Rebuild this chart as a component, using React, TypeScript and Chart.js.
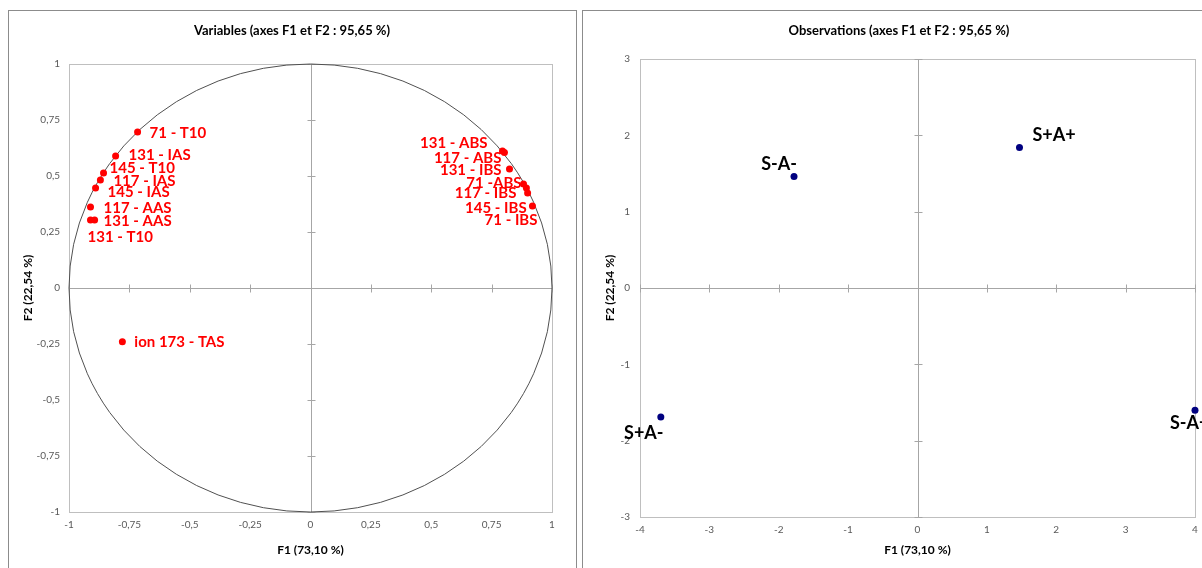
import React, { useEffect, useRef } from "react";
import { Chart, registerables } from "chart.js";
Chart.register(...registerables);

// ---------- Data ----------
const varLabels = [
  "71 - T10", "131 - IAS", "145 - T10", "117 - IAS", "145 - IAS", "117 - AAS", "131 - AAS", "131 - T10",
  "131 - ABS", "117 - ABS", "131 - IBS", "71 -ABS", "117 - IBS", "145 - IBS", "71 - IBS",
  "ion 173 - TAS",
];
const varF1 = [-0.716, -0.807, -0.857, -0.87, -0.89, -0.911, -0.894, -0.911, 0.795, 0.803, 0.824, 0.882, 0.894, 0.899, 0.919, -0.779];
const varF2 = [0.696, 0.589, 0.513, 0.482, 0.446, 0.362, 0.304, 0.304, 0.612, 0.605, 0.531, 0.464, 0.446, 0.424, 0.366, -0.24];

const obsLabels = ["S+A+", "S-A-", "S+A-", "S-A+"];
const obsF1 = [1.47, -1.78, -3.7, 4.0];
const obsF2 = [1.84, 1.46, -1.69, -1.6];

const varTicks = [-1, -0.75, -0.5, -0.25, 0, 0.25, 0.5, 0.75, 1];
const obsXTicks = [-4, -3, -2, -1, 0, 1, 2, 3, 4];
const obsYTicks = [-3, -2, -1, 0, 1, 2, 3];

const varTitle = "Variables (axes F1 et F2 : 95,65 %)";
const obsTitle = "Observations (axes F1 et F2 : 95,65 %)";
const xTitle = "F1 (73,10 %)";
const yTitle = "F2 (22,54 %)";

// ---------- Label placement (layout, pixels) ----------
const varAlign = ["left", "left", "left", "left", "left", "left", "left", "left",
  "right", "right", "right", "right", "right", "right", "right", "left"];
const varDx = [12, 13, 6, 13, 12, 13, 9, -3, -15, -3, -8, -2, -10, -1, 5, 12];
const varDy = [1, -1, -5, 1, 4, 1, 1, 17, -8, 6, 1, -1, 5, 15, 14, 0];
const obsAlign = ["left", "right", "center", "left"];
const obsDx = [13, 3, -17, -25];
const obsDy = [-12, -12, 16, 13];

const FONT = "Lato, 'Open Sans', 'DejaVu Sans', sans-serif";
const fmt = (v: number) => String(v).replace(".", ",");

const framePlugin = {
  id: "frame",
  beforeDatasetsDraw(chart: any, _a: any, opts: any) {
    const { ctx, chartArea: a } = chart;
    const x = chart.scales.x;
    const y = chart.scales.y;
    ctx.save();
    ctx.lineWidth = 1;
    ctx.strokeStyle = opts.frameColor;
    ctx.strokeRect(Math.round(a.left) + 0.5, Math.round(a.top) + 0.5, Math.round(a.width), Math.round(a.height));
    const x0 = Math.round(x.getPixelForValue(0)) + 0.5;
    const y0 = Math.round(y.getPixelForValue(0)) + 0.5;
    ctx.strokeStyle = opts.axisColor;
    const line = (x1: number, y1: number, x2: number, y2: number) => {
      ctx.beginPath();
      ctx.moveTo(x1, y1);
      ctx.lineTo(x2, y2);
      ctx.stroke();
    };
    line(x0, a.top, x0, a.bottom);
    line(a.left, y0, a.right, y0);
    for (const t of x.ticks) {
      const px = Math.round(x.getPixelForValue(t.value)) + 0.5;
      line(px, y0 - 4, px, y0 + 4);
    }
    for (const t of y.ticks) {
      const py = Math.round(y.getPixelForValue(t.value)) + 0.5;
      line(x0 - 4, py, x0 + 4, py);
    }
    if (opts.circle) {
      const cx = x.getPixelForValue(0);
      const cy = y.getPixelForValue(0);
      const rx = Math.abs(x.getPixelForValue(1) - cx);
      const ry = Math.abs(y.getPixelForValue(1) - cy);
      ctx.strokeStyle = opts.circleColor;
      ctx.beginPath();
      ctx.ellipse(cx, cy, rx, ry, 0, 0, Math.PI * 2);
      ctx.stroke();
    }
    ctx.restore();
  },
};

const labelPlugin = {
  id: "pointLabels",
  afterDatasetsDraw(chart: any, _a: any, opts: any) {
    const { ctx } = chart;
    const meta = chart.getDatasetMeta(0);
    ctx.save();
    ctx.font = opts.font;
    ctx.fillStyle = opts.color;
    ctx.textBaseline = "middle";
    opts.labels.forEach((txt: string, i: number) => {
      const el = meta.data[i];
      ctx.textAlign = opts.align[i];
      ctx.fillText(txt, el.x + opts.dx[i], el.y + opts.dy[i]);
    });
    ctx.restore();
  },
};

// Chart title centred on the whole panel (not on the padded layout box)
const panelTitlePlugin = {
  id: "panelTitle",
  afterDraw(chart: any, _a: any, opts: any) {
    const { ctx } = chart;
    ctx.save();
    ctx.font = `bold 13px ${FONT}`;
    ctx.fillStyle = "#000";
    ctx.textAlign = "center";
    ctx.textBaseline = "middle";
    ctx.fillText(opts.text, chart.width / 2, opts.y);
    ctx.restore();
  },
};

function buildConfig(p: any) {
  return {
    type: "scatter",
    data: {
      datasets: [
        {
          data: p.xs.map((v: number, i: number) => ({ x: v, y: p.ys[i] })),
          backgroundColor: p.pointColor,
          borderWidth: 0,
          pointRadius: 3.5,
          clip: false,
        },
      ],
    },
    plugins: [framePlugin, labelPlugin, panelTitlePlugin],
    options: {
      responsive: false,
      animation: false,
      devicePixelRatio: 1,
      layout: { padding: { left: 0, right: p.padRight, top: p.padTop, bottom: 0 } },
      plugins: {
        legend: { display: false },
        tooltip: { enabled: false },
        title: { display: false },
        panelTitle: { text: p.title, y: 20 },
        frame: { frameColor: "#bfbfbf", axisColor: "#a6a6a6", circle: p.circle, circleColor: "#505050" },
        pointLabels: {
          labels: p.labels, align: p.align, dx: p.dx, dy: p.dy,
          font: p.labelFont, color: p.labelColor,
        },
      },
      scales: {
        x: {
          type: "linear",
          min: p.xTicks[0],
          max: p.xTicks[p.xTicks.length - 1],
          afterBuildTicks: (s: any) => { s.ticks = p.xTicks.map((v: number) => ({ value: v })); },
          afterFit: (s: any) => { s.height = p.xAxisH; },
          grid: { display: false, drawTicks: false },
          border: { display: false },
          ticks: {
            padding: 7,
            color: "#595959",
            font: { family: FONT, size: 10 },
            maxRotation: 0,
            autoSkip: false,
            callback: (v: number) => fmt(v),
          },
          title: {
            display: true,
            text: xTitle,
            color: "#000",
            font: { family: FONT, size: 12, weight: "bold" },
            padding: { top: 0, bottom: 15.8 },
          },
        },
        y: {
          type: "linear",
          min: p.yTicks[0],
          max: p.yTicks[p.yTicks.length - 1],
          afterBuildTicks: (s: any) => { s.ticks = p.yTicks.map((v: number) => ({ value: v })); },
          afterFit: (s: any) => { s.width = p.yAxisW; },
          grid: { display: false, drawTicks: false },
          border: { display: false },
          ticks: {
            padding: p.yTickPad,
            color: "#595959",
            font: { family: FONT, size: 10 },
            autoSkip: false,
            callback: (v: number) => fmt(v),
          },
          title: {
            display: true,
            text: yTitle,
            color: "#000",
            font: { family: FONT, size: 12, weight: "bold" },
            padding: { top: p.yTitlePad, bottom: 0 },
          },
        },
      },
    },
  };
}

function ChartCanvas(props: { cfg: any; left: number; top: number; width: number; height: number }) {
  const ref = useRef<HTMLCanvasElement | null>(null);
  useEffect(() => {
    if (!ref.current) return;
    const chart = new Chart(ref.current, buildConfig(props.cfg) as any);
    return () => chart.destroy();
  }, []);
  return (
    <canvas
      ref={ref}
      width={props.width}
      height={props.height}
      style={{ position: "absolute", left: props.left, top: props.top, width: props.width, height: props.height }}
    />
  );
}

export default function App() {
  const varCfg = {
    xs: varF1, ys: varF2, pointColor: "#ff0000",
    labels: varLabels, align: varAlign, dx: varDx, dy: varDy,
    labelFont: `bold 15px ${FONT}`, labelColor: "#ff0000",
    title: varTitle, padTop: 53, padRight: 23,
    xTicks: varTicks, yTicks: varTicks, xAxisH: 61, yAxisW: 60, yTickPad: 9, yTitlePad: 11.8,
    circle: true,
  };
  const obsCfg = {
    xs: obsF1, ys: obsF2, pointColor: "#000080",
    labels: obsLabels, align: obsAlign, dx: obsDx, dy: obsDy,
    labelFont: `bold 18px ${FONT}`, labelColor: "#000",
    title: obsTitle, padTop: 48, padRight: 20,
    xTicks: obsXTicks, yTicks: obsYTicks, xAxisH: 56, yAxisW: 57, yTickPad: 10, yTitlePad: 19.8,
    circle: false,
  };
  return (
    <div style={{ position: "fixed", left: 0, top: 0, width: 1202, height: 568, overflow: "hidden", background: "#fff" }}>
      <div style={{ position: "absolute", left: 8, top: 10, width: 569, height: 600, boxSizing: "border-box", border: "1px solid #8c8c8c" }} />
      <div style={{ position: "absolute", left: 582, top: 10, width: 640, height: 600, boxSizing: "border-box", border: "1px solid #8c8c8c" }} />
      <ChartCanvas cfg={varCfg} left={9} top={11} width={566} height={562} />
      <ChartCanvas cfg={obsCfg} left={583} top={11} width={632} height={562} />
    </div>
  );
}
